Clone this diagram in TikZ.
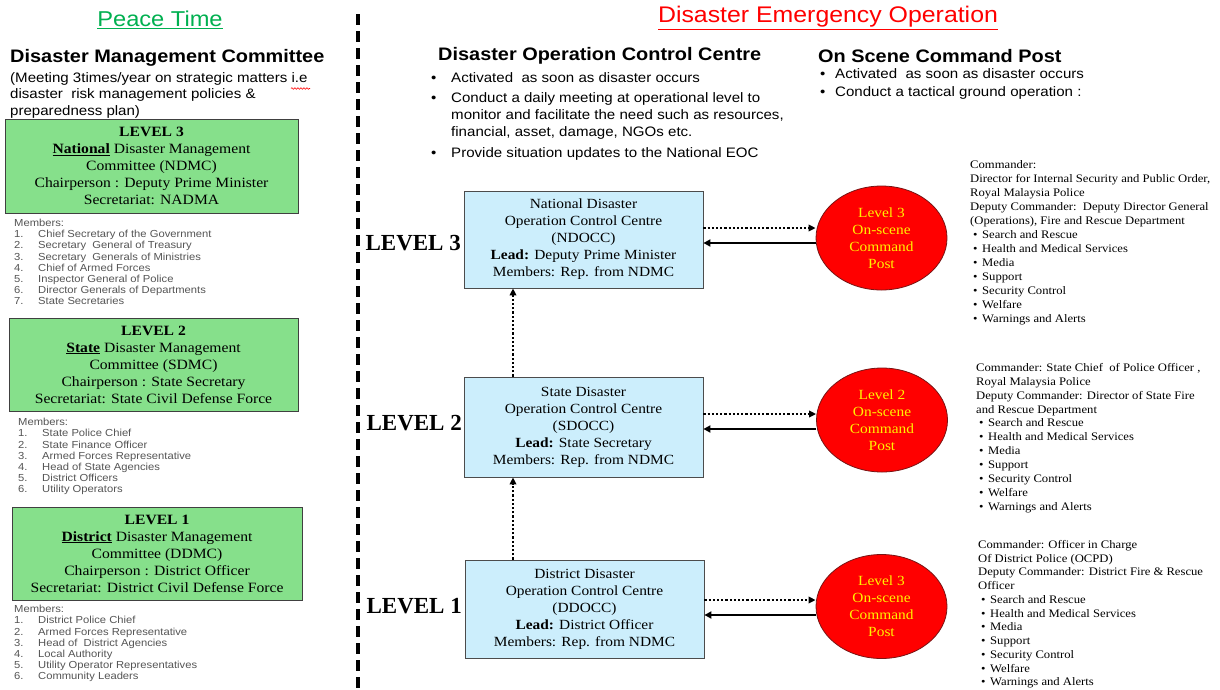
\documentclass[tikz,border=0pt]{standalone}
\usepackage{fontspec}
\setmainfont{Liberation Serif}[FakeStretch=1.1]
\setsansfont{Liberation Sans}[FakeStretch=1.1]
\newfontfamily\lvlfont{Liberation Serif}
\usetikzlibrary{arrows.meta,shapes.geometric,decorations.pathmorphing}
\definecolor{peacegreen}{RGB}{0,176,80}
\definecolor{peacefill}{RGB}{134,224,139}
\definecolor{doccfill}{RGB}{204,238,252}
\definecolor{postborder}{RGB}{120,20,20}
\definecolor{memgray}{RGB}{85,85,85}
\newcommand{\mi}[1]{\makebox[24pt][l]{#1}}
\newcommand{\bi}{\makebox[20pt][l]{\textbullet}}
\newcommand{\ri}{\hspace*{3pt}\makebox[9pt][l]{\textbullet}}
\begin{document}
\begin{tikzpicture}[x=1pt,y=-1pt,
  gbox/.style={draw=black!75, fill=peacefill, align=center, inner sep=0pt, line width=0.8pt,
     font=\fontsize{14.2}{17}\selectfont},
  bbox/.style={draw=black!70, fill=doccfill, align=center, inner sep=0pt, line width=0.8pt,
     minimum width=239pt, font=\fontsize{14}{17}\selectfont},
  post/.style={ellipse, draw=postborder, fill=red, line width=0.8pt, minimum width=131pt,
     minimum height=104pt, inner sep=0pt, text=yellow, align=center, font=\fontsize{14}{17}\selectfont},
  members/.style={anchor=north west, align=left, inner sep=0pt, text=memgray,
     font=\sffamily\fontsize{10.2}{11.2}\selectfont},
  info/.style={anchor=north west, align=left, inner sep=0pt, font=\fontsize{11.5}{14}\selectfont},
  lvl/.style={anchor=east, inner sep=0pt, font=\lvlfont\bfseries\fontsize{23}{23}\selectfont},
  head/.style={anchor=west, inner sep=0pt, font=\sffamily\bfseries\fontsize{18.1}{19}\selectfont},
  title/.style={inner sep=0pt, font=\sffamily\fontsize{22}{22}\selectfont},
  dotarrow/.style={line width=2.2pt, dash pattern=on 2.2pt off 2pt, -{Triangle[length=7pt,width=6.5pt]}},
  solidarrow/.style={line width=2.4pt, -{Triangle[length=7pt,width=7pt]}}
]
\useasboundingbox (0,0) rectangle (1220,689);
\fill[white] (0,0) rectangle (1220,689);

% divider
\draw[line width=3.5pt, dash pattern=on 11pt off 6pt] (358,14) -- (358,689);

% titles
\node[title, text=peacegreen, font=\sffamily\fontsize{21.5}{22}\selectfont] (pt) at (160,20) {\underline{Peace Time}};
\node[title, text=red, font=\sffamily\fontsize{22.6}{23}\selectfont] (deo) at (828,18) {\underline{Disaster Emergency Operation}};

% left column
\node[head] (dmc) at (10,58) {Disaster Management Committee};
\node[anchor=north west, align=left, inner sep=0pt, font=\sffamily\fontsize{13.7}{16.5}\selectfont] (meet) at (10,72)
  {(Meeting 3times/year on strategic matters i.e\\disaster\ \ risk management policies \&\\preparedness plan)};
\draw[red, line width=0.6pt, decorate, decoration={snake, amplitude=0.8pt, segment length=3pt}] (291,88.5) -- (310,88.5);

\node[gbox, minimum width=293pt, minimum height=94pt] (g3) at (151.5,166)
  {\textbf{LEVEL 3}\\\underline{\textbf{National}} Disaster Management\\Committee (NDMC)\\Chairperson : Deputy Prime Minister\\Secretariat: NADMA};
\node[members] (m3) at (14,219)
  {Members:\\\mi{1.}Chief Secretary of the Government\\\mi{2.}Secretary\ \ General of Treasury\\\mi{3.}Secretary\ \ Generals of Ministries\\\mi{4.}Chief of Armed Forces\\\mi{5.}Inspector General of Police\\\mi{6.}Director Generals of Departments\\\mi{7.}State Secretaries};

\node[gbox, minimum width=289pt, minimum height=93pt] (g2) at (153.5,364.5)
  {\textbf{LEVEL 2}\\\underline{\textbf{State}} Disaster Management\\Committee (SDMC)\\Chairperson : State Secretary\\Secretariat: State Civil Defense Force};
\node[members] (m2) at (18,418)
  {Members:\\\mi{1.}State Police Chief\\\mi{2.}State Finance Officer\\\mi{3.}Armed Forces Representative\\\mi{4.}Head of State Agencies\\\mi{5.}District Officers\\\mi{6.}Utility Operators};

\node[gbox, minimum width=290pt, minimum height=93pt] (g1) at (157,553.5)
  {\textbf{LEVEL 1}\\\underline{\textbf{District}} Disaster Management\\Committee (DDMC)\\Chairperson : District Officer\\Secretariat: District Civil Defense Force};
\node[members] (m1) at (14,605)
  {Members:\\\mi{1.}District Police Chief\\\mi{2.}Armed Forces Representative\\\mi{3.}Head of\ \ District Agencies\\\mi{4.}Local Authority\\\mi{5.}Utility Operator Representatives\\\mi{6.}Community Leaders};

% middle headers
\node[head] (docc) at (438,56) {Disaster Operation Control Centre};
\node[anchor=north west, align=left, inner sep=0pt, font=\sffamily\fontsize{13.7}{17}\selectfont] (doccl) at (431,72)
  {\bi Activated\ \ as soon as disaster occurs\\[3pt]
   \bi Conduct a daily meeting at operational level to\\
   \hspace*{20pt}monitor and facilitate the need such as resources,\\
   \hspace*{20pt}financial, asset, damage, NGOs etc.\\[4pt]
   \bi Provide situation updates to the National EOC};

\node[head] (osc) at (818,56) {On Scene Command Post};
\node[anchor=north west, align=left, inner sep=0pt, font=\sffamily\fontsize{13.7}{18}\selectfont] (oscl) at (820,68)
  {\makebox[15pt][l]{\textbullet}Activated\ \ as soon as disaster occurs\\
   \makebox[15pt][l]{\textbullet}Conduct a tactical ground operation :};

% level labels
\node[lvl] (l3) at (461,243) {LEVEL 3};
\node[lvl] (l2) at (462,423) {LEVEL 2};
\node[lvl] (l1) at (462,606) {LEVEL 1};

% DOCC boxes
\node[bbox, minimum height=97pt] (b3) at (583.5,239.5)
  {National Disaster\\Operation Control Centre\\(NDOCC)\\\textbf{Lead:} Deputy Prime Minister\\Members: Rep. from NDMC};
\node[bbox, minimum height=100pt] (b2) at (583.5,427)
  {State Disaster\\Operation Control Centre\\(SDOCC)\\\textbf{Lead:} State Secretary\\Members: Rep. from NDMC};
\node[bbox, minimum height=98pt] (b1) at (584.5,609)
  {District Disaster\\Operation Control Centre\\(DDOCC)\\\textbf{Lead:} District Officer\\Members: Rep. from NDMC};

% on-scene posts
\node[post] (c3) at (881.5,238) {Level 3\\On-scene\\Command\\Post};
\node[post] (c2) at (882,420) {Level 2\\On-scene\\Command\\Post};
\node[post] (c1) at (881.5,606.5) {Level 3\\On-scene\\Command\\Post};

% connectors
\draw[dotarrow] ([yshift=11.5pt]b3.east) -- ([yshift=11.5pt]b3.east -| c3.west);
\draw[solidarrow] ([yshift=-3.5pt]b3.east -| c3.west) -- ([yshift=-3.5pt]b3.east);
\draw[dotarrow] ([yshift=13pt]b2.east) -- ([yshift=13pt]b2.east -| c2.west);
\draw[solidarrow] ([yshift=-2pt]b2.east -| c2.west) -- ([yshift=-2pt]b2.east);
\draw[dotarrow] ([yshift=9pt]b1.east) -- ([yshift=9pt]b1.east -| c1.west);
\draw[solidarrow] ([yshift=-6pt]b1.east -| c1.west) -- ([yshift=-6pt]b1.east);
\draw[dotarrow] ([xshift=-70.5pt]b2.north) -- ([xshift=-70.5pt]b2.north |- b3.south);
\draw[dotarrow] ([xshift=-71.5pt]b1.north) -- ([xshift=-71.5pt]b1.north |- b2.south);

% command info
\node[info] (i3) at (970,160)
  {Commander:\\Director for Internal Security and Public Order,\\Royal Malaysia Police\\Deputy Commander:\ \ Deputy Director General\\(Operations), Fire and Rescue Department\\
   \ri Search and Rescue\\\ri Health and Medical Services\\\ri Media\\\ri Support\\\ri Security Control\\\ri Welfare\\\ri Warnings and Alerts};
\node[info, font=\fontsize{11.5}{13.9}\selectfont] (i2) at (976,363)
  {Commander: State Chief\ \ of Police Officer ,\\Royal Malaysia Police\\Deputy Commander: Director of State Fire\\and Rescue Department\\
   \ri Search and Rescue\\\ri Health and Medical Services\\\ri Media\\\ri Support\\\ri Security Control\\\ri Welfare\\\ri Warnings and Alerts};
\node[info, font=\fontsize{11.5}{13.75}\selectfont] (i1) at (978,540)
  {Commander: Officer in Charge\\Of District Police (OCPD)\\Deputy Commander: District Fire \& Rescue\\Officer\\
   \ri Search and Rescue\\\ri Health and Medical Services\\\ri Media\\\ri Support\\\ri Security Control\\\ri Welfare\\\ri Warnings and Alerts};
\end{tikzpicture}
\end{document}
